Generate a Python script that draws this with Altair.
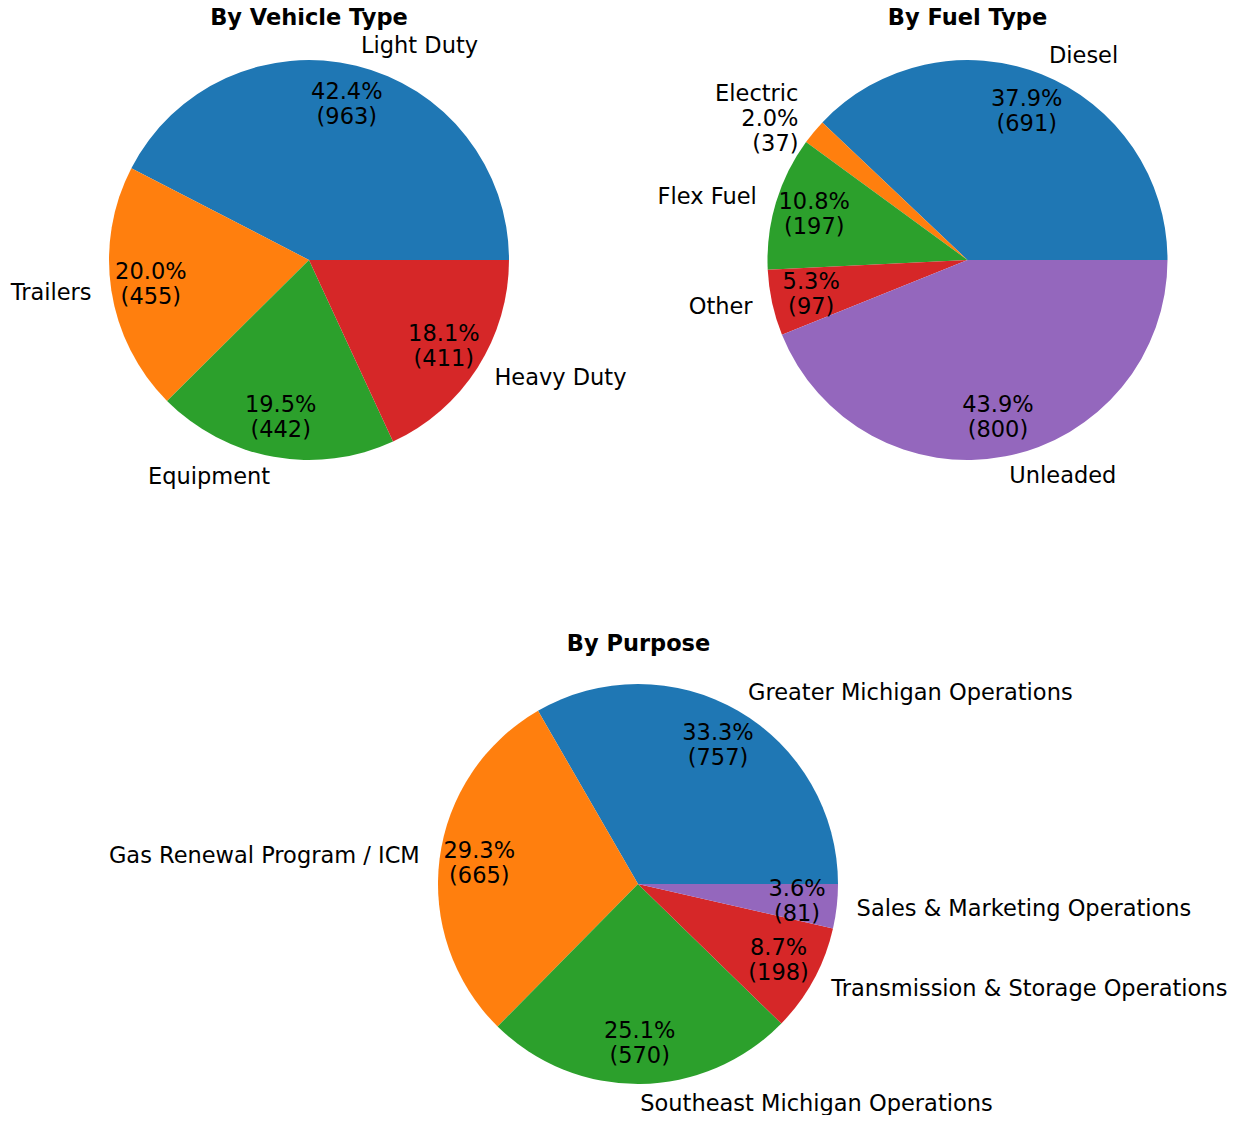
import math
import altair as alt
import pandas as pd

# ---- data ----
vehicle_labels = ["Light Duty", "Trailers", "Equipment", "Heavy Duty"]
vehicle_counts = [963, 455, 442, 411]

fuel_labels = ["Diesel", "Electric", "Flex Fuel", "Other", "Unleaded"]
fuel_counts = [691, 37, 197, 97, 800]

purpose_labels = [
    "Greater Michigan Operations",
    "Gas Renewal Program / ICM",
    "Southeast Michigan Operations",
    "Transmission & Storage Operations",
    "Sales & Marketing Operations",
]
purpose_counts = [757, 665, 570, 198, 81]

titles = ["By Vehicle Type", "By Fuel Type", "By Purpose"]

colors = ["#1f77b4", "#ff7f0e", "#2ca02c", "#d62728", "#9467bd"]

FONT = "DejaVu Sans"
FS = 22.5
LH = 25
R = 200


def frame(labels, counts):
    total = sum(counts)
    rows = []
    cum = 0.0
    for i, (lab, c) in enumerate(zip(labels, counts)):
        frac = c / total
        mid = 2 * math.pi * (cum + frac / 2)
        cum += frac
        pct = f"{frac * 100:.1f}%\n({c})"
        small = frac < 0.03
        right = math.cos(mid) >= 0
        multi = f"{lab}\n{pct}" if small else ""
        single = "" if small else lab
        rows.append(
            dict(
                idx=i,
                label=lab,
                count=c,
                pct="" if small else pct,
                s_r=single if right else "",
                s_l="" if right else single,
                m_r=multi if right else "",
                m_l="" if right else multi,
            )
        )
    return pd.DataFrame(rows)


def pie(df, cx, cy):
    base = alt.Chart(df).encode(
        theta=alt.Theta(
            "count:Q",
            stack=True,
            scale=alt.Scale(range=[2.5 * math.pi, 0.5 * math.pi]),
        ),
        order=alt.Order("idx:Q", sort="ascending"),
        x=alt.value(cx),
        y=alt.value(cy),
    )
    arc = base.mark_arc(outerRadius=R).encode(
        color=alt.Color(
            "idx:N",
            scale=alt.Scale(domain=list(range(5)), range=colors),
            legend=None,
        )
    )
    txt = dict(baseline="middle", lineBreak="\n", fontSize=FS, lineHeight=LH,
               font=FONT, color="black")
    pct = base.mark_text(radius=0.8 * R, align="center", dy=-LH / 2, **txt).encode(text="pct:N")
    s_r = base.mark_text(radius=1.1 * R, align="left", **txt).encode(text="s_r:N")
    s_l = base.mark_text(radius=1.1 * R, align="right", **txt).encode(text="s_l:N")
    m_r = base.mark_text(radius=1.1 * R, align="left", dy=-LH, **txt).encode(text="m_r:N")
    m_l = base.mark_text(radius=1.1 * R, align="right", dy=-LH, **txt).encode(text="m_l:N")
    return alt.layer(arc, pct, s_r, s_l, m_r, m_l)


def title(t, x, y):
    return alt.Chart(pd.DataFrame({"t": [t]})).mark_text(
        font=FONT, fontSize=FS, fontWeight="bold", align="center",
        baseline="middle", color="black",
    ).encode(text="t:N", x=alt.value(x), y=alt.value(y))


pie_a = pie(frame(vehicle_labels, vehicle_counts), 301, 252)
pie_b = pie(frame(fuel_labels, fuel_counts), 959.5, 252)
pie_c = pie(frame(purpose_labels, purpose_counts), 630, 876)

chart = alt.layer(
    pie_a, pie_b, pie_c,
    title(titles[0], 301, 9.5),
    title(titles[1], 959.5, 9.5),
    title(titles[2], 630.5, 636),
).resolve_scale(theta="independent").properties(
    width=1223,
    height=1107,
    padding=0,
    autosize=alt.AutoSizeParams(type="none"),
).configure_view(stroke=None)

chart.save("out.html", embed_options={"renderer": "svg", "actions": False})
